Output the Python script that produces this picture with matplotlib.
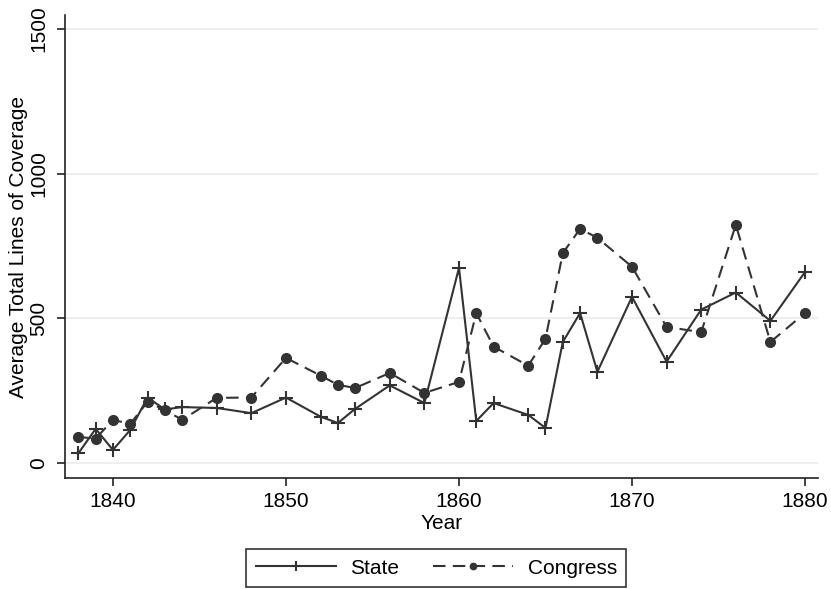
import numpy as np
import matplotlib.pyplot as plt

plt.rcParams['font.family'] = ['Liberation Sans', 'DejaVu Sans']

years = [1838, 1839, 1840, 1841, 1842, 1843, 1844, 1846, 1848, 1850,
         1852, 1853, 1854, 1856, 1858, 1860, 1861, 1862, 1864, 1865,
         1866, 1867, 1868, 1870, 1872, 1874, 1876, 1878, 1880]
state = [33, 118, 45, 114, 226, 185, 193, 190, 172, 226,
         160, 138, 187, 268, 207, 674, 145, 207, 166, 121,
         418, 518, 315, 574, 350, 530, 589, 491, 660]
congress = [90, 84, 149, 135, 211, 183, 149, 225, 226, 363,
            302, 270, 259, 311, 242, 280, 518, 402, 336, 429,
            725, 809, 778, 678, 470, 452, 823, 418, 518]

fig = plt.figure(figsize=(8.31, 5.89), dpi=100)
ax = fig.add_axes([65/831, 1 - 478/589, (818-65)/831, (478-15)/589])

col = '#333333'
ax.plot(years, state, color=col, lw=1.5, marker='+', ms=10, mew=1.5, label='State')
ax.plot(years, congress, color=col, lw=1.5, ls=(0, (6, 3.5)), marker='o', ms=7,
        label='Congress')

ax.set_xlim(1837.23, 1880.75)
ax.set_ylim(-52, 1548)
ax.set_xticks([1840, 1850, 1860, 1870, 1880])
ax.set_yticks([0, 500, 1000, 1500])
ax.set_yticklabels(['0', '500', '1000', '1500'], rotation=90, va='center')
ax.grid(axis='y', color='#ebebeb', lw=1.2)
ax.set_axisbelow(True)
for s in ['top', 'right']:
    ax.spines[s].set_visible(False)
for s in ['left', 'bottom']:
    ax.spines[s].set_color('#222222')
    ax.spines[s].set_linewidth(1.2)
ax.tick_params(length=6, width=1.2, labelsize=15, color='#222222')
ax.tick_params(axis='x', pad=4)
ax.tick_params(axis='y', pad=6)
ax.set_xlabel('Year', fontsize=15, labelpad=2)
ax.set_ylabel('Average Total Lines of Coverage', fontsize=15, labelpad=1)

leg = fig.legend(loc='lower center', bbox_to_anchor=(0.525, 0.0), ncol=2,
                 fontsize=15, frameon=True, fancybox=False, handlelength=3.85,
                 handletextpad=0.7, columnspacing=1.6, borderpad=0.45,
                 borderaxespad=0.1, markerscale=0.65)
leg.get_frame().set_edgecolor('black')
leg.get_frame().set_linewidth(1.2)

fig.savefig('out.png', dpi=100, facecolor='white')
